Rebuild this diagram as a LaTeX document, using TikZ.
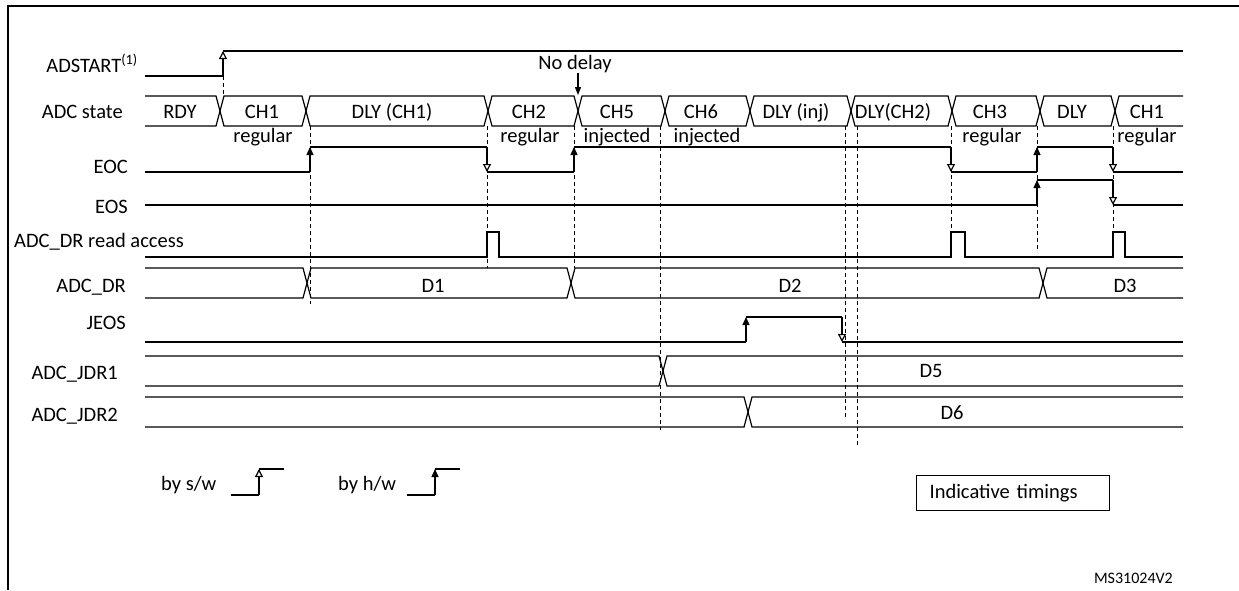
\documentclass[tikz,border=0pt]{standalone}
\usepackage{fontspec}
\setmainfont{Carlito}
\usetikzlibrary{arrows.meta}

\begin{document}
\begin{tikzpicture}[x=1pt,y=-1pt]
\tikzstyle{txt}=[inner sep=0pt,font=\fontsize{20.5}{24}\selectfont]
\tikzstyle{sig}=[line width=1.2pt,line join=miter]
\tikzstyle{guide}=[line width=1pt,dash pattern=on 4pt off 3pt]
\tikzstyle{sw}=[sig,-{Triangle[open,width=8pt,length=8pt,fill=white]}]
\tikzstyle{hw}=[sig,-{Triangle[width=7pt,length=8pt]}]

\useasboundingbox (0,0) rectangle (1239,590);
\draw[line width=2.5pt] (1239,6) -- (8,6) -- (8,590);

% signal names
\node[txt,anchor=base east] (adstart) at (138,72) {ADSTART\textsuperscript{(1)}};
\node[txt,anchor=base east] (state) at (123,118) {ADC state};
\node[txt,anchor=base east] (eoc) at (128,173) {EOC};
\node[txt,anchor=base east] (eos) at (128,213) {EOS};
\node[txt,anchor=base west] (rdacc) at (14,247) {ADC\_DR read access};
\node[txt,anchor=base east] (dr) at (126,292) {ADC\_DR};
\node[txt,anchor=base east] (jeos) at (126,329) {JEOS};
\node[txt,anchor=base east] (jdr1) at (118,379) {ADC\_JDR1};
\node[txt,anchor=base east] (jdr2) at (118,421) {ADC\_JDR2};

% guides
\draw[guide] (223,76) -- (223,96);
\draw[guide] (310,126) -- (310,304);
\draw[guide] (487,126) -- (487,268);
\draw[guide] (574,126) -- (574,268);
\draw[guide] (660,126) -- (660,430);
\draw[guide] (845,126) -- (845,418);
\draw[guide] (857,126) -- (857,447);
\draw[guide] (951,126) -- (951,232);
\draw[guide] (1037,126) -- (1037,252);
\draw[guide] (1113,126) -- (1113,232);

% ADSTART
\draw[sig] (145,76) -- (223,76);
\draw[sw] (223,76) -- (223,51);
\draw[sig] (223,51) -- (1183,51);

% ADC state
\draw[sig] (145,96) -- (216,96) -- (224,126) -- (302,126) -- (310,96) -- (484,96) -- (492,126) -- (574,126) -- (582,96) -- (661,96) -- (669,126) -- (746,126) -- (754,96) -- (847,96) -- (855,126) -- (948,126) -- (956,96) -- (1036,96) -- (1044,126) -- (1111,126) -- (1119,96) -- (1183,96);
\draw[sig] (145,126) -- (216,126) -- (224,96) -- (302,96) -- (310,126) -- (484,126) -- (492,96) -- (574,96) -- (582,126) -- (661,126) -- (669,96) -- (746,96) -- (754,126) -- (847,126) -- (855,96) -- (948,96) -- (956,126) -- (1036,126) -- (1044,96) -- (1111,96) -- (1119,126) -- (1183,126);
\node[txt,anchor=base] (rdy) at (180,118) {RDY};
\node[txt,anchor=base] (ch1a) at (262,118) {CH1};
\node[txt,anchor=base] (dly1) at (392,118) {DLY (CH1)};
\node[txt,anchor=base] (ch2) at (529,118) {CH2};
\node[txt,anchor=base] (ch5) at (617,118) {CH5};
\node[txt,anchor=base] (ch6) at (701,118) {CH6};
\node[txt,anchor=base] (dlyinj) at (796,118) {DLY (inj)};
\node[txt,anchor=base] (dly2) at (893,118) {DLY(CH2)};
\node[txt,anchor=base] (ch3) at (990,118) {CH3};
\node[txt,anchor=base] (dly) at (1072,118) {DLY};
\node[txt,anchor=base] (ch1b) at (1147,118) {CH1};
\node[txt,anchor=base] (reg1) at (263,142) {regular};
\node[txt,anchor=base] (reg2) at (530,142) {regular};
\node[txt,anchor=base] (inj5) at (617,142) {injected};
\node[txt,anchor=base] (inj6) at (707,142) {injected};
\node[txt,anchor=base] (reg3) at (992,142) {regular};
\node[txt,anchor=base] (reg4) at (1147,142) {regular};
\node[txt,anchor=base] (nodelay) at (575,69) {No delay};
\coordinate (nd) at (578,95);
\draw[line width=1.2pt,-{Triangle[width=6pt,length=8pt]}] (nodelay.south -| nd) -- (nd);

% EOC
\draw[sig] (145,172) -- (310,172);
\draw[hw] (310,172) -- (310,147);
\draw[sig] (310,147) -- (487,147);
\draw[sw] (487,147) -- (487,172);
\draw[sig] (487,172) -- (574,172);
\draw[hw] (574,172) -- (574,147);
\draw[sig] (574,147) -- (951,147);
\draw[sw] (951,147) -- (951,172);
\draw[sig] (951,172) -- (1037,172);
\draw[hw] (1037,172) -- (1037,147);
\draw[sig] (1037,147) -- (1113,147);
\draw[sw] (1113,147) -- (1113,172);
\draw[sig] (1113,172) -- (1183,172);

% EOS
\draw[sig] (145,205) -- (1037,205);
\draw[hw] (1037,205) -- (1037,180);
\draw[sig] (1037,180) -- (1113,180);
\draw[sw] (1113,180) -- (1113,205);
\draw[sig] (1113,205) -- (1183,205);

% ADC_DR read access
\draw[sig] (145,257) -- (487,257) -- (487,232) -- (499,232) -- (499,257) -- (951,257) -- (951,232) -- (965,232) -- (965,257) -- (1113,257) -- (1113,232) -- (1125,232) -- (1125,257) -- (1183,257);

% ADC_DR
\draw[sig] (145,268) -- (303,268) -- (311,298) -- (567,298) -- (575,268) -- (1039,268) -- (1047,298) -- (1183,298);
\draw[sig] (145,298) -- (303,298) -- (311,268) -- (567,268) -- (575,298) -- (1039,298) -- (1047,268) -- (1183,268);
\node[txt,anchor=base] (d1) at (433,292) {D1};
\node[txt,anchor=base] (d2) at (790,292) {D2};
\node[txt,anchor=base] (d3) at (1125,292) {D3};

% JEOS
\draw[sig] (145,342) -- (746,342);
\draw[hw] (746,342) -- (746,317);
\draw[sig] (746,317) -- (842,317);
\draw[sw] (842,317) -- (842,342);
\draw[sig] (842,342) -- (1183,342);

% ADC_JDR1, ADC_JDR2
\draw[sig] (145,356) -- (659,356) -- (667,386) -- (1183,386);
\draw[sig] (145,386) -- (659,386) -- (667,356) -- (1183,356);
\node[txt,anchor=base] (d5) at (931,377) {D5};
\draw[sig] (145,397) -- (744,397) -- (752,427) -- (1183,427);
\draw[sig] (145,427) -- (744,427) -- (752,397) -- (1183,397);
\node[txt,anchor=base] (d6) at (952,419) {D6};

% legend
\node[txt,anchor=base west] (bysw) at (161,490) {by s/w};
\draw[sig] (231,495) -- (259,495);
\draw[sw] (259,495) -- (259,469);
\draw[sig] (259,469) -- (284,469);
\node[txt,anchor=base west] (byhw) at (338,490) {by h/w};
\draw[sig] (407,495) -- (435,495);
\draw[hw] (435,495) -- (435,469);
\draw[sig] (435,469) -- (460,469);

\node[txt,draw,line width=1.2pt,anchor=north west,minimum width=193pt,minimum height=35pt,inner xsep=13pt,text width=167pt,align=left] (timings) at (916,475) {Indicative timings};
\node[inner sep=0pt,anchor=base east,font=\fontsize{16}{19}\selectfont] (ref) at (1173,583) {MS31024V2};

\end{tikzpicture}
\end{document}
